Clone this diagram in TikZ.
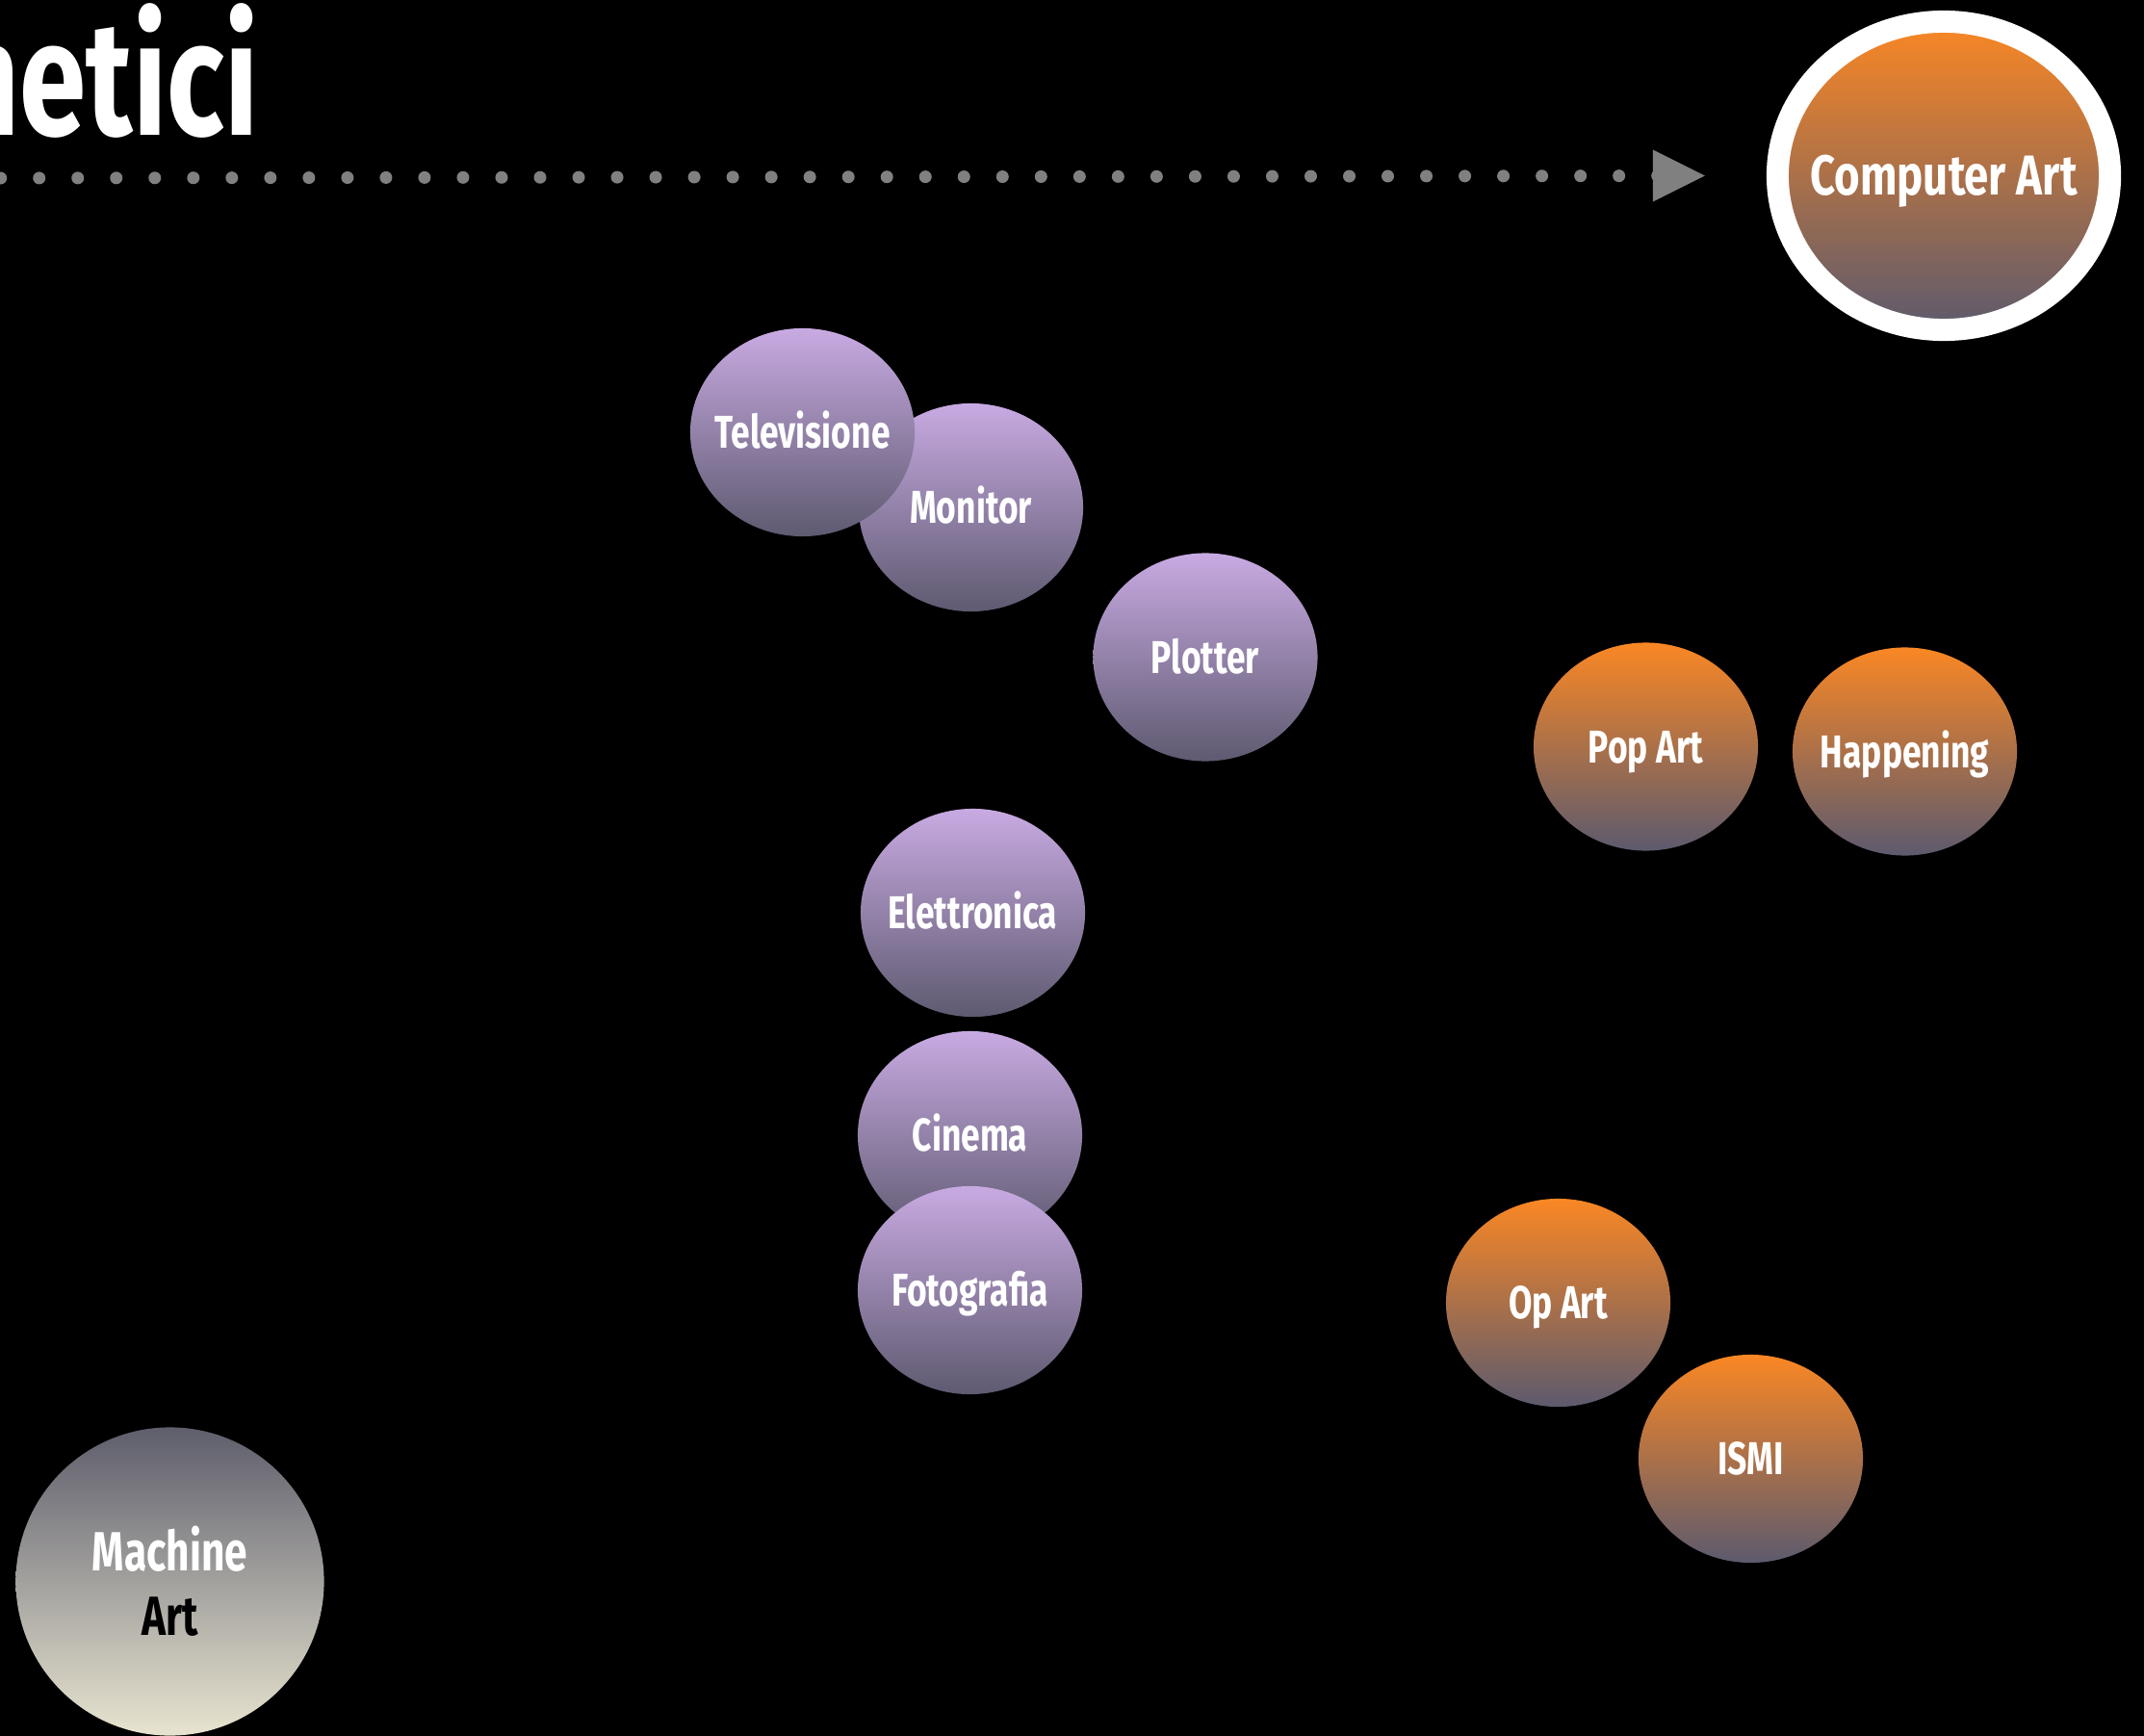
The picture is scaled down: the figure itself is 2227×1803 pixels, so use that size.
\documentclass[tikz,border=0pt]{standalone}
\usepackage{fontspec}
\usepackage{xcolor}
\usepackage{tikz}
\usetikzlibrary{shapes,positioning}

\newfontfamily\dinfont[FakeStretch=0.74]{Fira Sans}
\newfontfamily\dinwide[FakeStretch=0.78]{Fira Sans}
% text that does not widen its ellipse
\newcommand{\balltext}[1]{\makebox[0pt]{#1}}

\definecolor{lavtop}{RGB}{200,170,226}
\definecolor{lavbot}{RGB}{94,90,112}
\definecolor{orgtop}{RGB}{250,135,36}
\definecolor{orgbot}{RGB}{92,90,110}
\definecolor{machtop}{RGB}{94,94,108}
\definecolor{machbot}{RGB}{232,228,208}
\definecolor{dotgray}{RGB}{128,128,128}

\begin{document}
\begin{tikzpicture}[x=0.01cm,y=-0.01cm]

        \tikzstyle{ball}=[ellipse,inner sep=0pt,minimum width=2.33cm,minimum height=2.16cm,text=white,
            font=\dinfont\bfseries\fontsize{13.6}{16}\selectfont,text height=0.33cm,text depth=0pt]
        \tikzstyle{lavball}=[ball,top color=lavtop,bottom color=lavbot]
        \tikzstyle{orgball}=[ball,top color=orgtop,bottom color=orgbot]
        \tikzstyle{dotline}=[dotgray,line width=0.13cm,line cap=round,dash pattern=on 0cm off 0.4cm]

        %% background
        \fill[black] (0,0) rectangle (2227,1803);
        \useasboundingbox (0,0) rectangle (2227,1803);

        %% title, cut by the left edge
        \node[anchor=base east,inner sep=0pt,text=white,
            font=\dinfont\bfseries\fontsize{48}{55}\selectfont] (title) at (269,141) {netici};

        %% goal
        \node[ellipse,draw=white,line width=0.23cm,inner sep=0pt,minimum width=3.45cm,minimum height=3.20cm,
            top color=orgtop,bottom color=orgbot,text=white,text height=0.40cm,text depth=0pt,
            font=\dinwide\bfseries\fontsize{16.6}{19}\selectfont] (comp) at (2019,182.5) {\balltext{Computer Art}};

        %% dotted arrow
        \coordinate (start) at (0.7,185);
        \coordinate[left=0.64cm of comp] (tip);
        \draw[dotline,shorten >=0.48cm] (start) -- (tip);
        \fill[dotgray] (tip) -- ++(-54,-27) -- ++(0,54) -- cycle;

        %% media
        \node[lavball] (monitor) at (1008.5,527) {\balltext{Monitor}};
        \node[lavball] (tv) at (833.5,449) {\balltext{Televisione}};
        \node[lavball] (plotter) at (1252,682.5) {\balltext{Plotter}};
        \node[lavball] (elettr) at (1010.5,948) {\balltext{Elettronica}};
        \node[lavball] (cinema) at (1007.5,1179) {\balltext{Cinema}};
        \node[lavball] (foto) at (1007.5,1340) {\balltext{Fotografia}};

        %% movements
        \node[orgball] (pop) at (1709.5,775.5) {\balltext{Pop Art}};
        \node[orgball] (happ) at (1978.5,780.5) {\balltext{Happening}};
        \node[orgball] (op) at (1618.5,1353) {\balltext{Op Art}};
        \node[orgball] (ismi) at (1818.5,1515) {\balltext{ISMI}};

        %% origin
        \node[circle,inner sep=0pt,minimum size=3.20cm,top color=machtop,bottom color=machbot,
            text=white,align=center,font=\dinfont\bfseries\fontsize{16.3}{19.06}\selectfont]
            (machine) at (176.5,1642.5) {Machine\\{\color{black}Art}};

\end{tikzpicture}
\end{document}
